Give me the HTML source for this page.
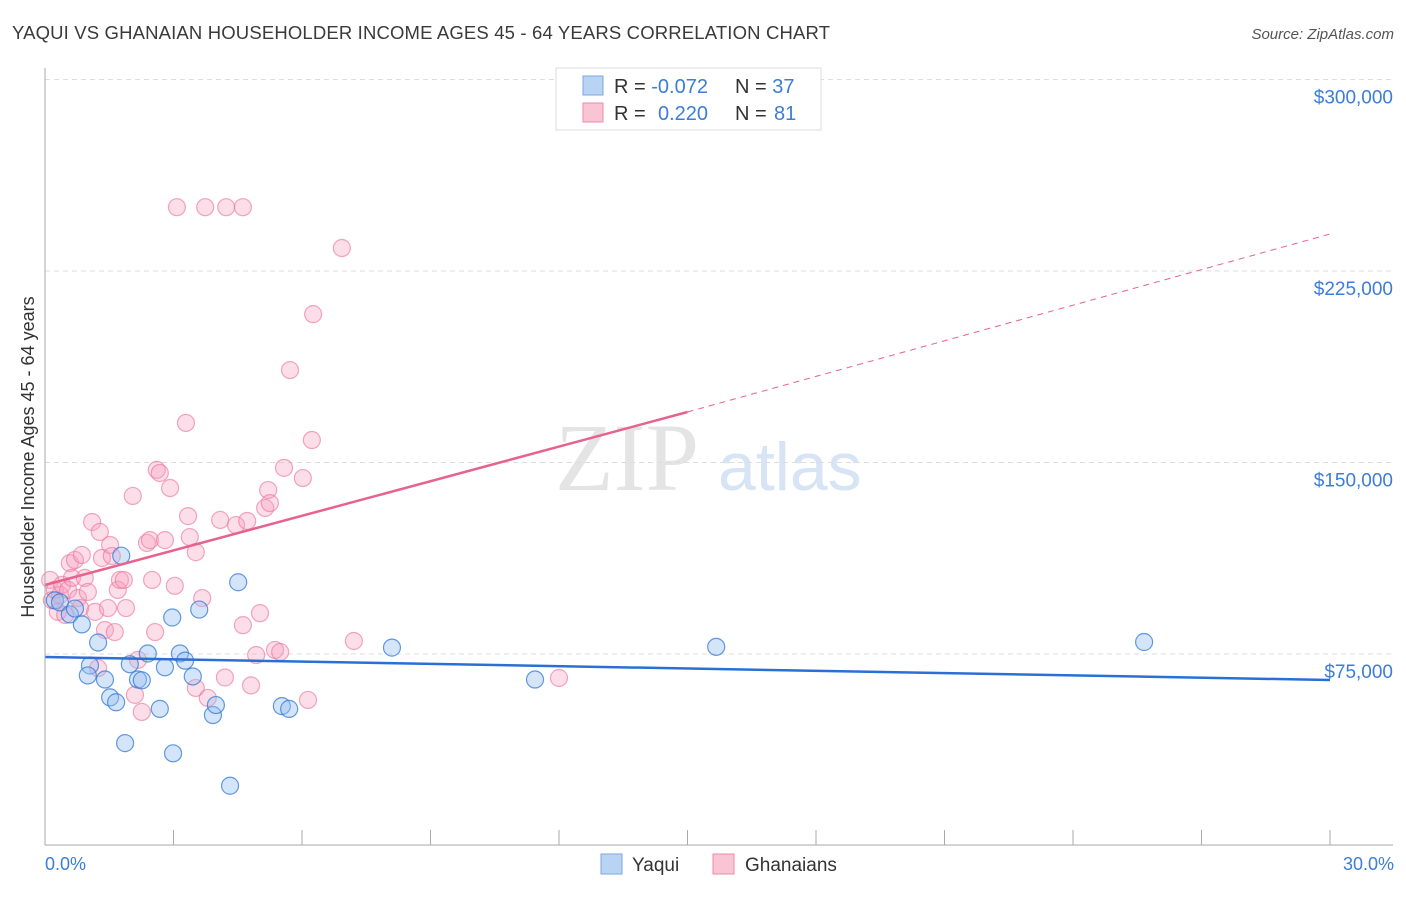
<!DOCTYPE html>
<html><head><meta charset="utf-8"><style>
body{margin:0;background:#fff;font-family:"Liberation Sans",sans-serif}
</style></head><body>
<svg id="c" width="1406" height="892" xmlns="http://www.w3.org/2000/svg">
<text x="12" y="39" font-size="18.5" fill="#3a3a3a" textLength="818">YAQUI VS GHANAIAN HOUSEHOLDER INCOME AGES 45 - 64 YEARS CORRELATION CHART</text>
<text x="1394" y="39" font-size="15" font-style="italic" fill="#555" text-anchor="end">Source: ZipAtlas.com</text>
<text x="555" y="490" font-size="96" font-family="Liberation Serif" fill="#e4e4e4">ZIP</text>
<text x="718" y="490" font-size="68" fill="#d6e4f5">atlas</text>
<g id="grid"></g><g id="pts"></g><g id="lines"></g>
<line x1="45" y1="68" x2="45" y2="845" stroke="#aaa"/>
<line x1="45" y1="845" x2="1393" y2="845" stroke="#aaa"/>
<text transform="translate(34,457) rotate(-90)" font-size="18" fill="#333" text-anchor="middle">Householder Income Ages 45 - 64 years</text>
<text x="45" y="870" font-size="18" fill="#3b7dd8">0.0%</text>
<text x="1394" y="870" font-size="18" fill="#3b7dd8" text-anchor="end">30.0%</text>
<g>
<rect x="556" y="68" width="265" height="62" fill="#fff" stroke="#ddd"/>
<rect x="583" y="76" width="20" height="19" fill="#b9d3f3" stroke="#7aa7e0"/>
<rect x="583" y="103" width="20" height="19" fill="#f9c5d4" stroke="#f08aa8"/>
<text x="614" y="93" font-size="20" fill="#333">R = <tspan fill="#3b7dd8">-0.072</tspan></text>
<text x="735" y="93" font-size="20" fill="#333">N = <tspan fill="#3b7dd8">37</tspan></text>
<text x="614" y="120" font-size="20" fill="#333">R = <tspan fill="#3b7dd8" x="658">0.220</tspan></text>
<text x="735" y="120" font-size="20" fill="#333">N = <tspan fill="#3b7dd8" x="774">81</tspan></text>
</g>
<g>
<rect x="601" y="854" width="21" height="20" fill="#b9d3f3" stroke="#7aa7e0"/>
<text x="632" y="871" font-size="19" fill="#333">Yaqui</text>
<rect x="713" y="854" width="21" height="20" fill="#f9c5d4" stroke="#f08aa8"/>
<text x="745" y="871" font-size="19" fill="#333">Ghanaians</text>
</g>
</svg>
<script>
const yTicks=[75000,150000,225000,300000];
const yTickLabels=["$75,000","$150,000","$225,000","$300,000"];
const yaquiX=[0.23,0.35,0.58,0.7,0.86,1.05,1.0,1.24,1.4,1.52,1.66,1.78,1.87,1.98,2.17,2.26,2.4,2.68,2.8,2.99,2.97,3.15,3.27,3.45,3.6,3.92,3.99,4.32,4.51,5.53,5.7,8.1,11.44,15.67,25.66];
const yaquiY=[96000,95200,90500,92800,86600,70500,66600,79500,65000,58000,56100,113500,40100,71000,65000,64700,75200,53500,69800,36100,89300,75200,72400,66200,92400,51100,55000,23400,103100,54600,53500,77500,65000,77800,79700];
const ghX=[0.12,0.16,0.23,0.30,0.35,0.40,0.47,0.54,0.58,0.63,0.70,0.77,0.82,0.86,0.93,1.00,1.10,1.17,1.24,1.28,1.33,1.40,1.47,1.52,1.56,1.63,1.70,1.75,1.84,1.89,2.05,2.10,2.17,2.26,2.38,2.45,2.50,2.57,2.61,2.68,2.80,2.92,3.03,3.08,3.29,3.34,3.38,3.52,3.52,3.67,3.74,3.80,4.09,4.20,4.23,4.46,4.62,4.62,4.72,4.81,4.93,5.02,5.14,5.21,5.25,5.37,5.49,5.58,6.02,6.14,6.23,5.72,6.26,6.93,7.21,12.0];
const ghY=[104000,96100,100100,91500,98100,102100,90300,100100,110600,104800,111800,96900,93000,113800,104800,99300,126700,91500,69500,122800,112600,84400,93000,117700,113400,83600,100100,104000,104000,93000,136900,59000,72700,52300,118500,119600,104000,83600,147100,145900,119600,140000,101700,250000,165500,129000,120800,114900,61700,96900,250000,57800,127500,65800,250000,125500,250000,86300,127100,62700,74600,91000,132200,139200,134100,76600,75800,147900,143900,57000,158800,186200,208100,234000,80100,65600];
const c=document.getElementById('c');
const NS="http://www.w3.org/2000/svg";
const X=p=>45+p/30*1285;
const Y=v=>845.5-v/75000*191.5;
function mk(t,a,parent){const e=document.createElementNS(NS,t);for(const k in a)e.setAttribute(k,a[k]);document.getElementById(parent).appendChild(e);return e;}
yTicks.forEach((v,i)=>{
 const l=mk('line',{x1:45,x2:1393,y1:Y(v),y2:Y(v),stroke:'#ddd','stroke-dasharray':'5,4'},'grid');
 
 
 const t=mk('text',{x:1393,y:Y(v)+24,'font-size':19,fill:'#3b7dd8','text-anchor':'end'},'grid');
 t.textContent=yTickLabels[i];
 
 
});
for(let i=1;i<=10;i++){
 const l=mk('line',{x1:X(i*3),x2:X(i*3),y1:830,y2:845,stroke:'#aaa'},'grid');
 
 
}
ghX.forEach((x,i)=>{
 const e=mk('circle',{cx:X(x),cy:Y(ghY[i]),r:8.5,fill:'rgba(246,160,188,0.35)',stroke:'rgba(236,120,158,0.65)','stroke-width':1.2},'pts');
 
 
});
yaquiX.forEach((x,i)=>{
 const e=mk('circle',{cx:X(x),cy:Y(yaquiY[i]),r:8.5,fill:'rgba(150,190,240,0.4)',stroke:'rgba(50,120,215,0.75)','stroke-width':1.2},'pts');
 
 
});
const bl=mk('line',{x1:X(0),y1:657,x2:X(30),y2:680,stroke:'#2a6fd6','stroke-width':2.5},'lines');


const pl=mk('line',{x1:X(0),y1:585,x2:X(15),y2:412,stroke:'#e8628e','stroke-width':2.5},'lines');


const pd=mk('line',{x1:X(15),y1:412,x2:X(30),y2:234,stroke:'#e8628e','stroke-width':1,'stroke-dasharray':'6,5'},'lines');


</script>
</body></html>
